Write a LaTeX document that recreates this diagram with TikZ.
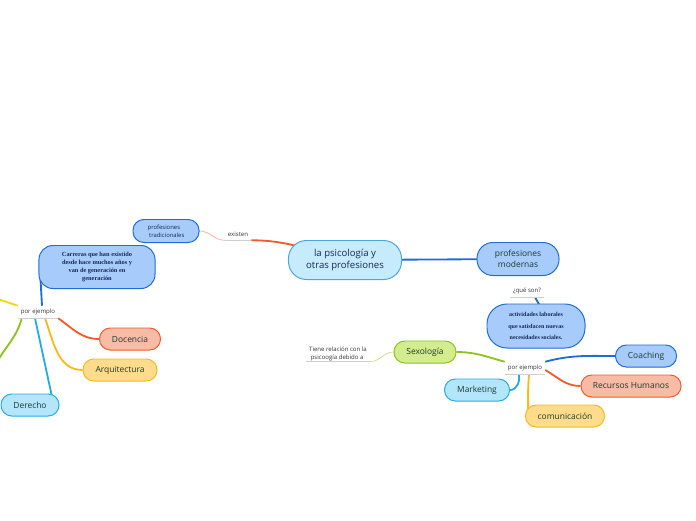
\documentclass[tikz,border=0pt]{standalone}
\usepackage{fontspec}
\setmainfont{Open Sans}
\newfontfamily\boxserif{Liberation Serif}
\usetikzlibrary{backgrounds}

\definecolor{deepblue}{HTML}{1F6BD8}
\definecolor{lightblue}{HTML}{A7CBFA}
\definecolor{paleblue}{HTML}{C6EBFC}
\definecolor{midblue}{HTML}{4BA5DF}
\definecolor{cyanline}{HTML}{29ABE2}
\definecolor{cyanfill}{HTML}{B3E5FB}
\definecolor{redline}{HTML}{F15A29}
\definecolor{salmon}{HTML}{F8BBA6}
\definecolor{palesalmon}{HTML}{F9AE94}
\definecolor{goldline}{HTML}{F9B81B}
\definecolor{goldfill}{HTML}{FEDC8C}
\definecolor{greenline}{HTML}{8DC21F}
\definecolor{greenfill}{HTML}{D3EC8E}
\definecolor{palegreen}{HTML}{C5E08A}
\definecolor{yellowline}{HTML}{F2D90F}
\definecolor{textgreen}{HTML}{1B3B30}
\definecolor{textnavy}{HTML}{16285A}
\definecolor{textgray}{HTML}{333333}
\definecolor{linegray}{HTML}{CFCFCF}

\begin{document}
\begin{tikzpicture}[x=0.025cm, y=-0.025cm,
    box/.style={draw, line width=0.7pt, rounded corners=0.27cm, minimum height=0.55cm,
        inner sep=1pt, text=textgreen, font=\fontsize{6}{7.5}\selectfont},
    bigbox/.style={box, rounded corners=0.4cm, align=center},
    serifbox/.style={box, rounded corners=0.35cm, align=center, text=textnavy},
    lab/.style={inner sep=0pt, minimum height=0.3cm, text=textgray,
        font=\fontsize{4.3}{6}\selectfont},
    under/.style={draw=linegray, line width=1pt},
    link/.style={line width=1.3pt}]
    \useasboundingbox (0,0) rectangle (696,520);

    % main topic
    \node[bigbox, fill=paleblue, draw=midblue, rounded corners=0.45cm, text=textnavy,
        minimum width=2.825cm, minimum height=0.975cm, font=\fontsize{6.8}{8.8}\selectfont]
        (root) at (345,260) {la psicología y\\otras profesiones};

    % profesiones tradicionales
    \node[lab, minimum width=0.65cm] (ex) at (238,234) {existen};
    \node[box, fill=lightblue, draw=deepblue, align=left, minimum width=1.65cm,
        minimum height=0.575cm, font=\fontsize{4.2}{6}\selectfont, text=textnavy]
        (trad) at (166,231) {profesiones\\ \ tradicionales};
    \node[serifbox, fill=lightblue, draw=deepblue, minimum width=2.9cm, minimum height=1.075cm,
        font=\boxserif\bfseries\fontsize{4.5}{5.8}\selectfont]
        (carr) at (97,267) {Carreras que han existido\\desde hace muchos años y\\van de generación en\\generación};
    \node[lab, minimum width=1cm] (pL) at (38,312) {por ejemplo};
    \node[box, fill=salmon, draw=redline, minimum width=1.525cm] (doc) at (130,339) {Docencia};
    \node[box, fill=goldfill, draw=goldline, minimum width=1.85cm] (arq) at (120,370) {Arquitectura};
    \node[box, fill=cyanfill, draw=cyanline, minimum width=1.45cm] (der) at (30,405) {Derecho};
    \coordinate (offA) at (-5,298);
    \coordinate (offB) at (-3,362);

    % profesiones modernas
    \node[bigbox, fill=lightblue, draw=deepblue, minimum width=2.05cm, minimum height=0.825cm]
        (mod) at (518,259) {profesiones\\modernas};
    \node[lab, minimum width=0.825cm] (qs) at (527,291) {¿qué son?};
    \node[serifbox, fill=lightblue, draw=deepblue, rounded corners=0.5cm, minimum width=2.45cm,
        minimum height=1.1cm, font=\boxserif\bfseries\fontsize{4.3}{8.3}\selectfont]
        (act) at (536,326) {actividades laborales\\que satisfacen nuevas\\necesidades sociales.};
    \node[lab, minimum width=1cm] (pR) at (525,368) {por ejemplo};
    \node[box, fill=greenfill, draw=greenline, minimum width=1.55cm] (sex) at (425,352) {Sexología};
    \node[lab, minimum width=1.6cm, minimum height=0.35cm, align=left] (tr) at (338,354)
        {Tiene relación con la\\ \ psicoogía debido a};
    \node[box, fill=lightblue, draw=deepblue, minimum width=1.525cm] (coach) at (646,356) {Coaching};
    \node[box, fill=salmon, draw=redline, minimum width=2.5cm] (rh) at (631,386) {Recursos Humanos};
    \node[box, fill=cyanfill, draw=cyanline, minimum width=1.625cm] (mkt) at (477,390) {Marketing};
    \node[box, fill=goldfill, draw=goldline, minimum width=1.975cm] (com) at (565,416) {comunicación};

    % underlines of the labels
    \foreach \l in {ex, pL, qs, pR, tr} {
        \draw[under] (\l.south west) -- (\l.south east);
    }

    % connections
    \begin{scope}[on background layer]
        \draw[link, redline] (ex.south east) to[out=0, in=165] (root.center);
        \draw[line width=0.5pt, palesalmon] (ex.south west) to[out=180, in=0] (trad.east);
        \draw[link, deepblue] (root.center) -- (mod.center);
        \draw[link, deepblue] ([xshift=0.1cm]pL.north) -- ([xshift=0.05cm, yshift=0.25cm]carr.south west);
        \draw[link, yellowline] (pL.north west) -- (offA);
        \draw[link, greenline] ([xshift=0.1cm]pL.south west) to[out=-105, in=60] (offB);
        \draw[link, cyanline] ([xshift=-0.075cm]pL.south) -- ([xshift=-0.175cm, yshift=0.15cm]der.east);
        \draw[link, goldline] ([xshift=0.175cm]pL.south) to[out=-70, in=180] (arq.west);
        \draw[link, redline] (pL.south east) to[out=-35, in=180] (doc.west);

        \draw[link, deepblue] ([xshift=0.2cm]qs.south) -- ([xshift=0.15cm, yshift=-0.15cm]act.north);
        \draw[link, greenline] (pR.north west) to[out=165, in=0] (sex.east);
        \draw[line width=0.5pt, palegreen] (tr.south east) to[out=0, in=180] (sex.west);
        \draw[link, deepblue] (pR.north east) to[out=15, in=180] (coach.west);
        \draw[link, redline] ([yshift=-0.05cm]pR.east) to[out=-30, in=180] (rh.west);
        \draw[link, goldline] ([xshift=0.1cm]pR.south) to[out=-95, in=90] ([xshift=0.08cm]com.west);
        \draw[link, cyanline] ([xshift=-0.15cm]pR.south) to[out=-80, in=0] (mkt.east);
    \end{scope}
\end{tikzpicture}
\end{document}
